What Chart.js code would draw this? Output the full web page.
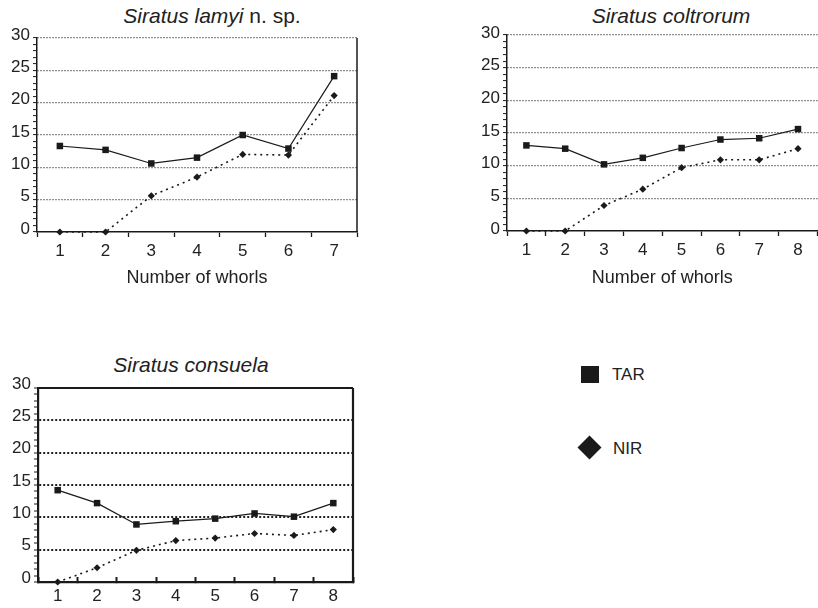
<!DOCTYPE html>
<html>
<head>
<meta charset="utf-8">
<script src="https://cdn.jsdelivr.net/npm/chart.js@4.4.0/dist/chart.umd.min.js"></script>
<style>
  body { margin: 0; width: 818px; height: 608px; overflow: hidden; background: #fff; position: relative;
         font-family: "Liberation Sans", Arial, sans-serif; color: #222; }
  canvas { position: absolute; }
  .ttl { position: absolute; width: 300px; text-align: center; font-size: 21px; line-height: 26px; white-space: nowrap; }
  .lg { position: absolute; font-size: 17px; line-height: 20px; }
  .sw { position: absolute; background: #1a1a1a; }
</style>
</head>
<body>
<div class="ttl" style="left:62px;top:3px"><i>Siratus lamyi</i> n. sp.</div>
<div class="ttl" style="left:521px;top:3px"><i>Siratus coltrorum</i></div>
<div class="ttl" style="left:41px;top:352px"><i>Siratus consuela</i></div>

<canvas id="c1" width="370" height="290" style="left:0;top:0"></canvas>
<canvas id="c2" width="352" height="290" style="left:470px;top:0"></canvas>
<canvas id="c3" width="370" height="320" style="left:0;top:300px"></canvas>

<div class="sw" style="left:581px;top:366px;width:18px;height:17px"></div>
<div class="lg" id="lg1" style="left:612px;top:365px"></div>
<div class="sw" style="left:581px;top:439px;width:17px;height:17px;transform:rotate(45deg)"></div>
<div class="lg" id="lg2" style="left:613px;top:439px"></div>

<script>
// data
var whorls7 = ['1', '2', '3', '4', '5', '6', '7'];
var whorls8 = ['1', '2', '3', '4', '5', '6', '7', '8'];
var seriesNames = ['TAR', 'NIR'];

var lamyiTAR = [13.3, 12.7, 10.6, 11.5, 15.0, 12.9, 24.1];
var lamyiNIR = [0, 0, 5.6, 8.5, 12.0, 11.9, 21.1];

var coltrorumTAR = [13.1, 12.6, 10.2, 11.2, 12.7, 14.0, 14.2, 15.6];
var coltrorumNIR = [0, 0, 3.9, 6.4, 9.7, 10.9, 10.9, 12.6];

var consuelaTAR = [14.2, 12.2, 8.9, 9.4, 9.8, 10.6, 10.1, 12.2];
var consuelaNIR = [0, 2.2, 4.9, 6.4, 6.8, 7.5, 7.2, 8.1];

var yMin = 0, yMax = 30, yMajor = 5;
var xTitle = 'Number of whorls';

document.getElementById('lg1').textContent = seriesNames[0];
document.getElementById('lg2').textContent = seriesNames[1];

Chart.defaults.font.family = '"Liberation Sans", Arial, sans-serif';
Chart.defaults.color = '#222';

// solid lines along chosen edges of the plot area
var framePlugin = {
	id: 'frame',
	beforeDatasetsDraw: function(chart, args, opts) {
		var a = chart.chartArea, ctx = chart.ctx;
		if (!opts.sides) return;
		ctx.save();
		ctx.strokeStyle = '#1a1a1a';
		ctx.lineWidth = opts.width || 1.5;
		ctx.beginPath();
		if (opts.sides.indexOf('top') >= 0) { ctx.moveTo(a.left, a.top); ctx.lineTo(a.right, a.top); }
		if (opts.sides.indexOf('right') >= 0) { ctx.moveTo(a.right, a.top); ctx.lineTo(a.right, a.bottom); }
		ctx.stroke();
		ctx.restore();
	}
};

function buildChart(id, labels, tar, nir, cfg) {
	var heavy = cfg.heavy;
	var ink = '#1a1a1a';
	return new Chart(document.getElementById(id).getContext('2d'), {
		type: 'line',
		data: {
			labels: labels,
			datasets: [
				{
					label: seriesNames[0],
					data: tar,
					borderColor: ink,
					borderWidth: 1.2,
					pointStyle: 'rect',
					pointRadius: 4.6,
					pointBackgroundColor: ink,
					pointBorderWidth: 0,
					clip: false
				},
				{
					label: seriesNames[1],
					data: nir,
					borderColor: ink,
					borderWidth: 1.6,
					borderDash: [2, 4],
					pointStyle: 'rectRot',
					pointRadius: 3.6,
					pointBackgroundColor: ink,
					pointBorderWidth: 0,
					clip: false
				}
			]
		},
		options: {
			responsive: false,
			animation: false,
			devicePixelRatio: 1,
			layout: { padding: cfg.padding },
			plugins: {
				legend: { display: false },
				tooltip: { enabled: false },
				frame: { sides: cfg.sides, width: heavy ? 2.2 : 1.5 }
			},
			scales: {
				x: {
					offset: true,
					grid: { offset: true, drawOnChartArea: false, tickLength: cfg.xTick, tickColor: ink, tickWidth: heavy ? 2 : 1.3 },
					border: { color: ink, width: heavy ? 2.2 : 1.5 },
					ticks: { padding: cfg.xPad, color: '#222', font: { size: 17 }, maxRotation: 0 },
					title: { display: cfg.showTitle, text: xTitle, color: '#222', font: { size: 18 }, padding: { top: 0, bottom: 1 } },
					afterFit: function(s) { s.height = cfg.xHeight; }
				},
				y: {
					min: yMin,
					max: yMax,
					grid: {
						color: function(c) { return c.tick && c.tick.value % yMajor === 0 && c.tick.value > yMin ? '#222' : 'rgba(0,0,0,0)'; },
						lineWidth: heavy ? 2 : 1.2,
						tickLength: 4,
						tickColor: ink,
						tickWidth: 1
					},
					border: { color: ink, width: heavy ? 2.2 : 1.5, dash: heavy ? [2, 2] : [1, 2] },
					ticks: {
						stepSize: 1,
						autoSkip: false,
						padding: 3,
						labelOffset: cfg.yLabelOffset,
						color: '#222',
						font: { size: 17 },
						callback: function(v) { return v % yMajor === 0 ? v : ''; }
					},
					afterFit: function(s) { s.width = cfg.yWidth; }
				}
			}
		},
		plugins: [framePlugin]
	});
}

buildChart('c1', whorls7, lamyiTAR, lamyiNIR, {
	padding: { top: 38, right: 13, left: 0, bottom: 0 },
	yWidth: 37, xHeight: 58, xTick: 5, xPad: 4, yLabelOffset: -3,
	showTitle: true, sides: ['right']
});

buildChart('c2', whorls8, coltrorumTAR, coltrorumNIR, {
	padding: { top: 35, right: 2, left: 0, bottom: 0 },
	yWidth: 37, xHeight: 59, xTick: 5, xPad: 4, yLabelOffset: -2,
	showTitle: true, sides: []
});

buildChart('c3', whorls8, consuelaTAR, consuelaNIR, {
	padding: { top: 88, right: 17, left: 0, bottom: 0 },
	yWidth: 38, xHeight: 38, xTick: -5, xPad: 9, yLabelOffset: -4,
	showTitle: false, sides: ['top', 'right'], heavy: true
});
</script>
</body>
</html>
